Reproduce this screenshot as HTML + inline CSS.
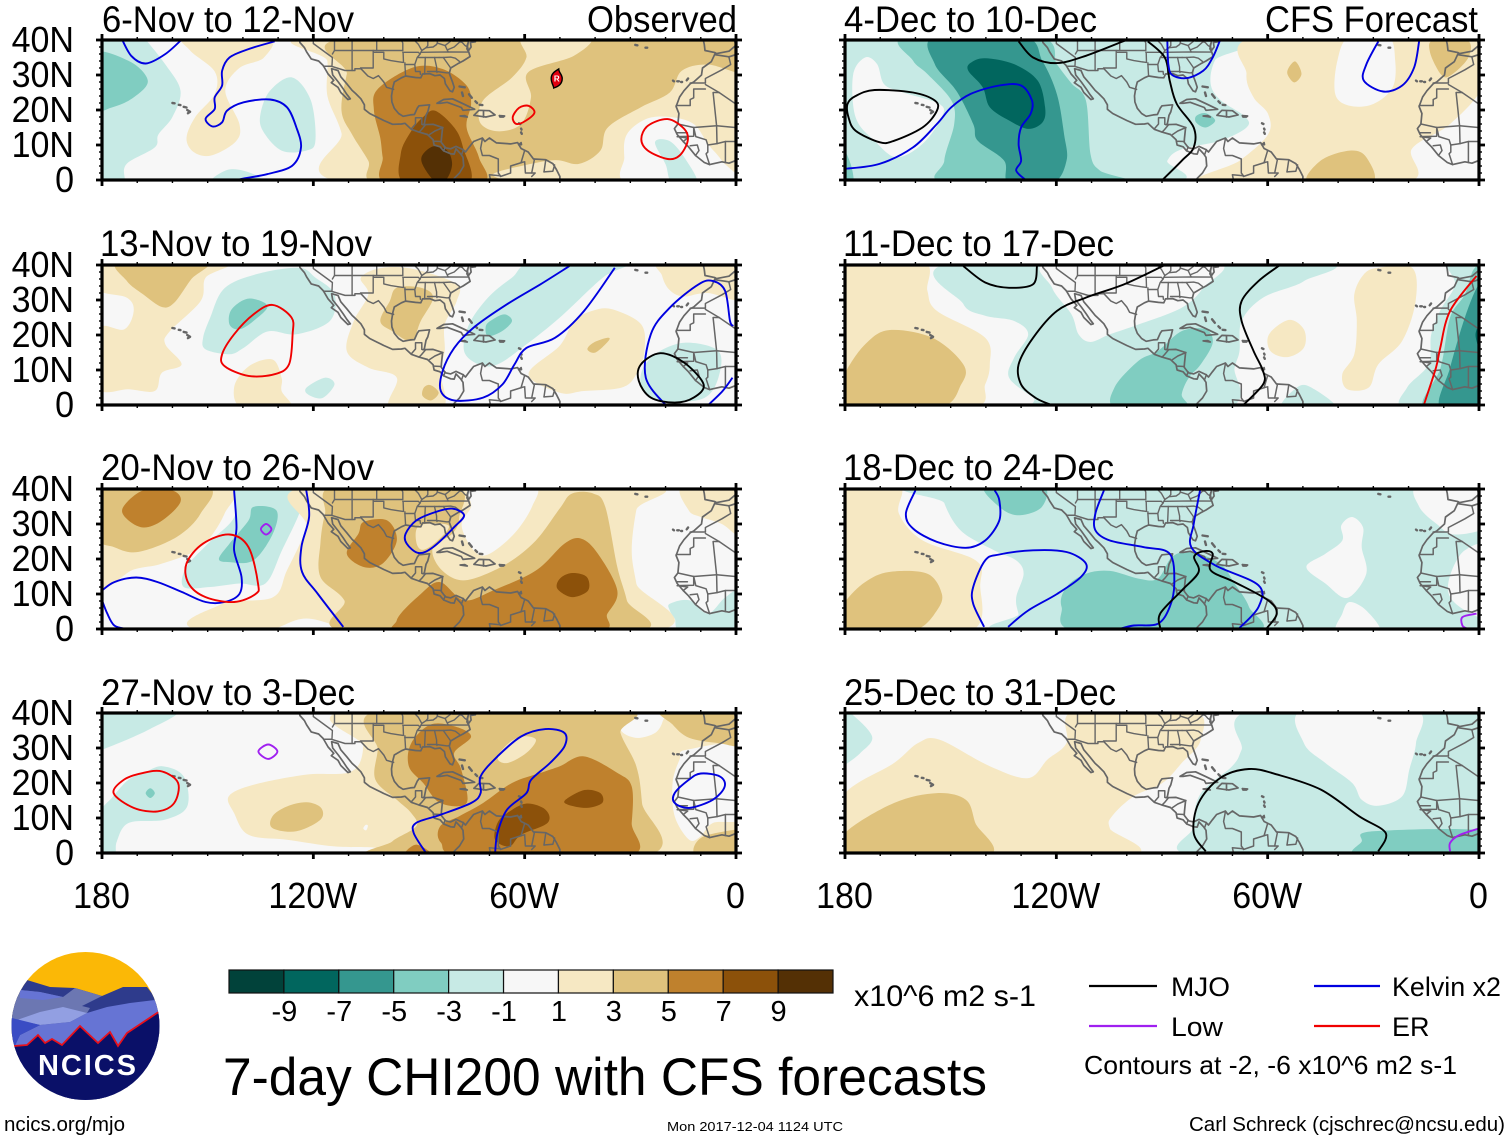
<!DOCTYPE html>
<html lang="en">
<head>
<meta charset="utf-8">
<title>7-day CHI200 with CFS forecasts</title>
<style>
html,body{margin:0;padding:0;background:#fff;}
svg{display:block;font-family:"Liberation Sans",Arial,sans-serif;}
</style>
</head>
<body>
<svg id="chart" xmlns="http://www.w3.org/2000/svg" width="1510" height="1141" viewBox="0 0 1510 1141">
<rect width="1510" height="1141" fill="#fff"/>
<g id="panels"></g>
<g id="titles" font-size="37" fill="#000">
<text x="102" y="32" textLength="252" lengthAdjust="spacingAndGlyphs">6-Nov to 12-Nov</text>
<text x="587" y="32" textLength="150" lengthAdjust="spacingAndGlyphs">Observed</text>
<text x="844" y="32" textLength="253" lengthAdjust="spacingAndGlyphs">4-Dec to 10-Dec</text>
<text x="1265" y="32" textLength="213" lengthAdjust="spacingAndGlyphs">CFS Forecast</text>
<text x="100" y="256" textLength="272" lengthAdjust="spacingAndGlyphs">13-Nov to 19-Nov</text>
<text x="843" y="256" textLength="271" lengthAdjust="spacingAndGlyphs">11-Dec to 17-Dec</text>
<text x="101" y="480" textLength="273" lengthAdjust="spacingAndGlyphs">20-Nov to 26-Nov</text>
<text x="843" y="480" textLength="271" lengthAdjust="spacingAndGlyphs">18-Dec to 24-Dec</text>
<text x="101" y="705" textLength="254" lengthAdjust="spacingAndGlyphs">27-Nov to 3-Dec</text>
<text x="844" y="705" textLength="272" lengthAdjust="spacingAndGlyphs">25-Dec to 31-Dec</text>
</g>
<g id="colorbar"></g>
<text x="854" y="1006" font-size="30" textLength="182" lengthAdjust="spacingAndGlyphs">x10^6 m2 s-1</text>
<text x="223" y="1095" font-size="53" textLength="764" lengthAdjust="spacingAndGlyphs">7-day CHI200 with CFS forecasts</text>
<g id="legend" font-size="27">
<line x1="1089" x2="1157" y1="986" y2="986" stroke="#000" stroke-width="2.2"/>
<text x="1171" y="996" textLength="59" lengthAdjust="spacingAndGlyphs">MJO</text>
<line x1="1314" x2="1380" y1="986" y2="986" stroke="#0000e0" stroke-width="2.2"/>
<text x="1392" y="996" textLength="109" lengthAdjust="spacingAndGlyphs">Kelvin x2</text>
<line x1="1089" x2="1157" y1="1026" y2="1026" stroke="#a020f0" stroke-width="2.2"/>
<text x="1171" y="1036" textLength="52" lengthAdjust="spacingAndGlyphs">Low</text>
<line x1="1314" x2="1380" y1="1026" y2="1026" stroke="#f00000" stroke-width="2.2"/>
<text x="1392" y="1036">ER</text>
<text x="1084" y="1074" font-size="26" textLength="373" lengthAdjust="spacingAndGlyphs">Contours at -2, -6 x10^6 m2 s-1</text>
</g>
<g>
<clipPath id="logoClip"><circle cx="85.5" cy="1026" r="74"/></clipPath>
<g clip-path="url(#logoClip)">
<rect x="10" y="950" width="152" height="152" fill="#fbb806"/>
<path d="M5 1000 L20 990 L27 980 L50 987 L75 988 L102 996 L123 987 L147 987 L165 1010 L165 1100 L5 1100Z" fill="#2e3b8c"/>
<path d="M20 990 L40 992 L63 997 L75 988 L102 996 L82 1006 L90 1008 L87 1013 L17 1020 L5 1020 L5 1002Z" fill="#6c77b2"/>
<path d="M20 990 L40 992 L63 997 L43 1000 L20 998Z" fill="#6674d4"/>
<path d="M87 1013 L107 1007 L130 1003 L155 1000 L165 1010 L165 1100 L5 1100 L15 1045 L20 1035 L40 1025 L70 1022Z" fill="#6674d4"/>
<path d="M17 1020 L40 1012 L63 1007 L87 1013 L70 1022 L40 1025Z" fill="#929fe2"/>
<path d="M5 1017 L12 1018 L40 1025 L20 1035 L15 1046 L5 1046Z" fill="#3a4cc4"/>
<path d="M14 1046 L27 1045 L38 1035 L45 1043 L52 1039 L62 1045 L80 1026 L98 1043 L110 1032 L118 1046 L127 1033 L157 1013 L165 1008 L165 1102 L5 1102 L5 1046Z" fill="#0a1068" stroke="#e8101c" stroke-width="1.8"/>
</g>
<text x="38" y="1075" font-size="29" font-weight="bold" fill="#fff" textLength="98" lengthAdjust="spacing">NCICS</text>
</g>
<text x="4" y="1131" font-size="20" textLength="121" lengthAdjust="spacingAndGlyphs">ncics.org/mjo</text>
<text x="667" y="1131" font-size="13" textLength="176" lengthAdjust="spacingAndGlyphs">Mon 2017-12-04 1124 UTC</text>
<text x="1189" y="1131" font-size="20" textLength="316" lengthAdjust="spacingAndGlyphs">Carl Schreck (cjschrec@ncsu.edu)</text>
</svg>
<script>
// ---- axis values ----
const latTicks = [40,30,20,10,0];
const latTickLabels = ['40N','30N','20N','10N','0'];
const lonMajor = [-180,-120,-60,0];
const lonTickLabels = ['180','120W','60W','0'];
const colorLevels = [-11,-9,-7,-5,-3,-1,1,3,5,7,9,11];
const colorbarLabels = [-9,-7,-5,-3,-1,1,3,5,7,9];

// ---- filled CHI200 anomaly contours: [level, flat lon/lat list] ----
const fillP1 = [
[-2,[-168.3,41,-162,33,-157.7,25.5,-160,18,-164,13,-165,9.3,-173,4.6,-173.5,0,-173,-3,-185,-3,-185,43,-170,43]],
[-4,[-183,36,-172.4,34,-167,28.4,-171,23.6,-177,20.8,-183,20.6]],
[2,[-156,41,-133,41,-134,35,-141,32,-145,25.5,-141,16,-142,11,-149,7,-154,8,-156,12,-153.5,18,-148,24.6,-148,31,-155,37]],
[-2,[-126,29.3,-120.7,22.7,-119.4,11.2,-122,8.4,-129,8.4,-134.3,14,-135,18.9,-132.3,25.5]],
[-2,[-149,-1,-144,3,-137,1.7,-135,-1]],
[2,[-118,41,3,41,3,-1,-109.5,-1,-112,13.4,-116,24,-116,34]],
[0,[-30.3,-1,-31.7,6.5,-31,13,-25.6,17.4,-18.8,18,-12,16,-8,10.3,-4,5.5,-0.7,-1]],
[-2,[-23,10.8,-19,11.2,-14.7,6.5,-11,-1,-18,-1,-20,4.5]],
[4,[-107.8,41,-110.5,30.3,-112,19.8,-109,13,-104.4,5.5,-101.7,-1,-67.7,-1,-69,1.7,-61,4,-51.4,5.7,-44.6,4.6,-38.5,8.4,-36.4,15,-27,20.8,-18.8,25,-15.4,31.2,-8,33,3,30.8,3,41]],
[2,[-60.2,41,-59.5,35,-63.6,29.3,-71.8,22.7,-72.7,16.5,-67.7,13.9,-61,16,-58.2,23.6,-59,30.8,-46,35.5,-41.6,41]],
[6,[-91.5,32.2,-83.3,31.7,-76.5,27,-75.2,21.7,-76.5,15,-73,6.5,-72.5,-1,-99,-1,-100.3,6.5,-101,12,-102.8,20,-101.7,26]],
[8,[-85.4,19.8,-80,15,-77.5,9.3,-76,-1,-93.8,-1,-95.2,7.4,-92.2,14,-88.8,18]],
[10,[-86,9.6,-82,8.4,-80.6,4.6,-82,0.5,-84.7,-1,-88,2.7,-89.3,6.5]]
];
const fillP2 = [
[2,[-181.2,41,-144.5,41,-150.6,36.4,-152,29.7,-160.8,21,-162,17.3,-157.4,11.6,-163,9.2,-165,4,-172.4,4.5,-181.2,5,-181.2,21.6,-173.7,21.6,-171,26.9,-173,30.7,-181.2,33]],
[4,[-175,41,-150.6,41,-154.7,35.9,-159.5,29.2,-163,28,-168.3,31.6,-173,35.5]],
[2,[-138.4,11,-131.6,13,-129,7.8,-129,4,-126.5,-1,-140,-1,-142.5,5]],
[-2,[-135.7,37.5,-124.1,39.2,-119.4,36.4,-114,31.6,-115.3,24,-124.8,20.2,-133,21,-139.8,16.3,-143.8,14.5,-150.6,15.9,-151.3,19.2,-149.3,24.9,-145.2,33.4]],
[-4,[-138.4,30.4,-133,28.3,-137,24,-141,21.6,-143.8,23,-143.2,27.3]],
[-2,[-116.7,7.8,-114,5.9,-117.4,2,-121.5,3,-121.9,5]],
[2,[-106.5,36.4,-100.3,39.2,-90.8,38.7,-79.3,34.5,-79.3,29.7,-82.7,23,-82.7,15.4,-84,9.7,-83.3,-1,-98.3,-1,-96.3,7.8,-104.4,10.7,-110.5,15.4,-108.5,24,-104.4,31.6]],
[4,[-96.3,33.5,-89.5,33.5,-86,30.7,-89.5,24,-92.2,18.3,-97.6,21.1,-101,24,-98.3,29.7]],
[4,[-86.7,5.7,-84.4,3.5,-86.5,1.3,-89,2.6,-88.6,5]],
[-2,[-56.8,41,-30.3,41,-37.8,36.4,-50,25,-59.5,17.3,-67.7,11.6,-73,11.6,-77.2,15.4,-75.8,23,-70.4,30.7,-63.6,36.4]],
[-4,[-65.7,25.9,-63.6,24,-66.4,21.1,-70.4,19.7,-71,22.6,-69,24.5]],
[2,[-35,27.3,-26.9,23,-26,15.4,-28.3,8.8,-32.4,5,-43.2,4,-50,3.5,-58.9,8.8,-50,17,-46,24,-40.5,27]],
[4,[-36.5,19.2,-36.2,18.3,-39.9,15,-42.2,15.9,-40.5,17.8]],
[2,[-21,41,3,41,3,30,-8,32,-15,31,-19,33,-21,37]],
[-2,[-14.6,17.8,-5,15.4,-5,7.8,-9,2,-18.7,1,-25.6,3,-27,8.8,-23,14.5]]
];
const fillP3 = [
[2,[-181.2,41,-144.5,41,-145.2,33,-152,23.4,-162.9,18.7,-171,17,-181.2,13]],
[4,[-181,41,-150.6,41,-152,33,-158.8,26.3,-169.8,22,-176.6,23.4,-181,26.3]],
[6,[-168.3,39.6,-160.1,39.6,-157.7,36.3,-162.9,31,-168.3,29,-173,31.5,-174,34.8]],
[-2,[-141,41,-124,41,-123.4,34.8,-128.9,22.5,-133.6,13,-141,13,-149.3,12,-156.8,12,-156,17.7,-149.3,25,-142.5,31.9]],
[-4,[-137,34.9,-130.5,33.9,-131.5,27.2,-137,19.6,-143.8,19.1,-146.8,20,-143.8,24.4,-138.4,31]],
[2,[-120,41,-26.2,41,-28.3,34,-29.6,22.5,-28.3,13,-25.6,-1,-146.6,-1,-145.9,7.2,-131.6,9,-127.5,16.7,-122,29]],
[0,[-75.2,41,-57.5,41,-57.9,35,-63,27.2,-70.4,21.3,-74.5,22.5,-77.9,29.6,-75.2,35]],
[0,[-130,-1,-127.5,1.5,-122,3,-115.3,1.5,-110.5,-1]],
[4,[-113.9,41,-116.7,32.9,-118,24.4,-118,14.9,-111.2,8.2,-109.2,-1,-29.7,-1,-31,8.2,-33.7,17.7,-37.1,34.9,-40.5,38.7,-46.6,38.7,-50,34.5,-56.8,25.3,-65,18.7,-74.5,14.4,-80,14.4,-84.7,18.2,-86,23.4,-80.6,27.2,-78.6,31.9,-80,41]],
[2,[-89.8,29.6,-81.6,29.6,-85,25,-89,22.6,-90.8,25]],
[6,[-96.3,2.5,-89.5,10,-84,13.4,-77.2,8.2,-69,11,-56.8,16.7,-48.7,24.4,-43.9,25.8,-39.2,21.5,-33.7,11,-36.5,4.4,-41.2,-1,-92.2,-1]],
[8,[-46.6,16,-42.4,14.9,-42,11,-46.6,9.1,-50.7,11.5,-50,14.4]],
[6,[-105.7,30.6,-99,31,-96.3,25.3,-100.3,18.7,-105.7,17.7,-110.5,21.5,-107.2,27.2]],
[-2,[-18.8,7.2,-13.3,8.2,-8,4.4,-3.1,9,1,10.6,1,-1,-15,-1,-17.4,3,-18.8,5.3]],
[2,[-15,41,3,41,3,26,-4,30,-10,32,-13.5,34]]
];
const fillP4 = [
[-2,[-181,41,-158.7,41,-166.8,35.2,-180,29.5,-181.5,29.5]],
[-2,[-162.9,24.8,-156.8,21.9,-155.8,13.3,-162.2,9.5,-172.4,8.6,-175.8,3.3,-176.5,-1,-181,-1,-181,10.5,-177,16,-172.4,21,-168,22.9]],
[-4,[-166.3,18.5,-165,17.1,-166.3,15.7,-167.6,17.1]],
[2,[-107.8,41,3,41,3,-1,-100.3,-1,-101.7,1.4,-114,1.9,-127.5,3.8,-138.4,5.2,-142.5,11.4,-144,16.2,-137,19.5,-122,22.4,-109.2,23.3,-105.8,30.5]],
[0,[-32.4,41,-20.8,41,-20.8,37.6,-23,34.3,-28.3,32.9,-32.8,35.2]],
[0,[-14,29.5,3,30,3,11,-6.5,8.6,-10,4.8,-13.3,3.8,-17.4,10.5,-18,20,-16,26.7]],
[4,[-10,4.3,0,6.7,3,6.7,3,-1,-11,-1]],
[4,[-20.8,41,3,41,3,31,-5,31.4,-13.3,32.9,-18,36.7]],
[4,[-100.3,41,-32.8,41,-32.8,34.3,-28.3,24.8,-26.7,14.3,-26.2,-1,-100.3,-1,-97.6,3.3,-90.8,7.6,-92.2,11.4,-96.3,15.2,-102.4,21,-101.7,29.5]],
[2,[-60.9,33.3,-56.8,32.4,-59.5,28.6,-64.9,25.7,-67.7,27.1,-65,31]],
[4,[-121.9,14.5,-117.8,12.9,-118,9.5,-124.8,6.2,-131.6,7.1,-131.6,10.5,-127.5,13.3]],
[6,[-43.2,27.6,-33.7,22.9,-29.6,19,-29.6,8.6,-31,-1,-76.5,-1,-83.8,3,-84,7.6,-78.6,10.5,-71.8,14.3,-63.6,20,-55.5,22.9,-50,24.8]],
[6,[-86.7,36.7,-80,36.2,-75.2,33.3,-80,28.6,-78,23.8,-76.5,14.3,-84,14.3,-88.8,20,-92.9,24.8,-92.2,31.4]],
[6,[-94.2,-1,-90.8,2.4,-86,-1]],
[8,[-43,18,-38.5,17.1,-38,14.3,-42.4,12.9,-47.7,13.8,-48.4,15.2]],
[8,[-59.6,14.1,-54.1,12.4,-53.5,8.6,-61,5.2,-64.3,1.9,-68.4,3.8,-67.7,8.6,-65,11.4]],
[0,[-105.2,8,-104.5,7.8,-105,6.5,-105.8,7]]
];
const fillP5 = [
[-2,[-181,41,-69.4,41,-74.9,34.3,-76.2,27.6,-73.5,22.9,-66.4,18.1,-66,15,-73.5,11.2,-84.4,8.8,-88.5,5.5,-90,-1,-181,-1]],
[0,[-174.3,35,-170.9,33.1,-168.8,27.3,-163.4,25,-153.2,21.7,-152.5,18,-158,10.3,-165.4,6.5,-171.6,11.2,-177,17.9,-177.7,30]],
[-4,[-162.7,41,-160.7,34.1,-156.6,30.3,-149.8,22.7,-149,16,-151.8,5.5,-150.4,-1,-100.7,-1,-107.6,2.7,-110.3,7.4,-111.6,22.7,-115.7,27.6,-119.8,33,-125.3,41]],
[-4,[-181,9.3,-178.4,4.6,-177.7,-1,-181,-1]],
[-6,[-154.5,41,-154.5,33.1,-148.4,25.5,-143.6,16,-142.3,11.2,-134.8,5.5,-133.4,-1,-121.2,-1,-117.1,5.5,-117.8,13,-119.8,24.4,-123.9,33.9,-129.3,41]],
[-8,[-140.2,34.8,-132,33.1,-125.3,28.4,-123.2,20.8,-123.9,16.5,-128,14.6,-133.4,17,-138.9,20.8,-140.9,26.5,-145,31.2,-144.3,33.5]],
[-4,[-77.6,19.1,-74.9,17,-77.6,15,-80.3,16.4,-80.3,18.3]],
[2,[-62.6,41,1.4,41,1.4,27.4,-8.2,16,-19,9,-21.8,-1,-78.3,-1,-68,5.5,-59.9,13,-59.9,18.9,-64,23.6,-66,30.3]],
[0,[-36.7,41,-25.9,41,-23.8,34.1,-24.5,26.5,-30,21.7,-36.7,21.2,-40.8,24.5,-40.2,34.1]],
[4,[-52,33.8,-50.4,30.3,-52.4,27.9,-54.4,30.3,-53.7,32.6]],
[4,[-12.9,40,-3.4,40,-3,35,-8.2,29.8,-10.9,30.3,-13.9,36.5]],
[4,[-36.7,8.4,-32,6.5,-30.6,-1,-48.3,-1,-45,5.5]]
];
const fillP6 = [
[2,[-181,41,-157.9,41,-156.6,32.6,-153.9,26.9,-140.2,19.2,-138.9,11.6,-140.2,5.9,-144.3,-1,-181,-1]],
[4,[-167.5,21.4,-155.2,19.2,-146.4,11.6,-147,5.9,-153.9,-1,-181,-1,-181,5,-179.7,9.7,-174.3,17.3]],
[-2,[-147.7,41,-47.6,41,-49.7,35.4,-61.3,30.7,-67.4,24,-68,15.4,-69.4,10.7,-72.2,-1,-121.9,-1,-126.6,2.1,-133.4,7.8,-132,13.5,-128,20.2,-132,24,-140.2,25.5,-146.4,28.9]],
[-2,[-51.7,5,-47.6,5,-40.8,-1,-55.8,-1]],
[0,[-121.2,41,-75,41,-78.3,33.5,-84.4,27.8,-96.7,23,-104.8,20.2,-110.3,18,-113.7,20.2,-115.7,25.9,-121.2,33.5]],
[-4,[-102.8,-1,-103.5,5,-96.7,12.6,-91.2,15.4,-84.4,21.1,-77.6,21.6,-75.6,17.8,-79,11.6,-82.4,7.8,-84.4,3,-83.7,-1]],
[2,[-54,24.3,-49.7,21.6,-49.7,16.4,-54.4,13.7,-59.2,15.4,-59.6,20.2]],
[2,[-28.6,39.2,-19,39.2,-18,29.7,-21.8,18.3,-28.6,11.6,-31.3,5,-37.4,4.5,-38.8,8.8,-35.4,14.5,-34.7,24,-35.4,31.6,-32.7,37.3]],
[-2,[-9,41,3,41,3,-1,-21,-1,-20.4,5,-14.3,11.6,-13.6,20,-11,27,-6.8,34.5]],
[-4,[-1.3,39,3,39,3,-1,-15.6,-1,-10.9,10.7,-8.2,25,-4,31.6]],
[-6,[0,34.5,3,34.5,3,-1,-10.9,-1,-8.2,10.7,-4,25]],
[-8,[0.5,23,-1,20,0.5,15.4,2,18]]
];
const fillP7 = [
[2,[-181,41,-164.7,41,-164.7,33,-157.9,25.3,-142.9,19.6,-141.6,13,-145,-1,-181,-1]],
[4,[-167.5,16.3,-156.6,15.8,-152.5,10,-153.9,5.3,-159.3,0,-170,-1,-181,-1,-181,5,-179.7,8.2,-174.3,13.4]],
[-2,[-151.8,41,-151.8,36,-147,28,-137.5,22.4,-131.4,19.6,-129.3,15.8,-131.4,9,-130.7,4.3,-128.7,-1,3,-1,3,41]],
[0,[-36,32,-32.9,29,-33.3,23.4,-32,15.8,-37.4,8.9,-43.6,13,-49,17.7,-43.6,21.5,-38.8,25.3,-39.1,29.6]],
[0,[-36.8,7.7,-32,5.3,-28.3,-1,-40.2,-1,-38.8,4.4]],
[0,[-17,41,3,41,3,30,-6.8,27,-12,30,-17,35]],
[0,[-8.2,15.3,-4,22.5,3,23,3,4.4,-2.2,4.4,-8.2,9.1]],
[-4,[-140.2,41,-124,41,-124.1,34.9,-130.7,32.5,-136.2,34.9]],
[-4,[-104.8,16.6,-96.7,14.4,-91.2,14.4,-87.1,20.6,-81.7,22,-73.5,18.7,-69.4,13,-65.3,6.3,-64.6,-1,-113,-1,-118.5,6.3,-117.1,12,-111.6,15.8]]
];
const fillP8 = [
[-2,[-181,41,-178.4,40,-172.3,33.3,-175.6,28.6,-180,25.2,-181,25]],
[2,[-181,15.7,-166.1,25.7,-159.3,31.4,-153.2,32.4,-138.9,24.8,-128,21.4,-122.5,26.7,-117.1,31.4,-114.4,41,-81.7,41,-79,32.4,-84.4,25.7,-89.9,20,-98,16.2,-104.2,10.5,-104.8,7,-100.7,-1,-181,-1]],
[4,[-153.9,17.1,-145.7,15.2,-143,8.6,-140,-1,-181,-1,-180,5.7,-166.1,14.3]],
[-2,[-63.3,41,3,41,3,-1,-79,-1,-81,7.6,-79,17,-70.1,24.8,-67.4,29.5]],
[0,[-49.7,41,-18.4,41,-17.9,31.4,-19.8,23.8,-21.8,16.2,-28.6,13.5,-33.3,15.2,-36,20,-43.6,25.7,-49.7,31.4]],
[-4,[-30,6.2,3,6.2,3,-1,-33.3,-1,-33.3,3.3]]
];

// ---- contour lines: [kind, closed, flat lon/lat list] ----
const lineP1 = [
['kelvin',0,[-174.7,41,-171.7,35.5,-167.6,33.3,-162,36,-157,40.5]],
['kelvin',0,[-131,39.6,-138.4,37.4,-143.8,35,-145.9,31.2,-145.9,27,-148,23.6,-148,20.3,-150.6,17.5,-148.6,15.3,-145.9,16.5,-144.5,19.8,-139.8,22.2,-132.3,23,-127.5,20.8,-124.8,15,-123.5,9.3,-126,4.1,-133,1.7,-140.4,0.3,-142.5,-0.5]],
['er',1,[-58.9,21.2,-57.2,19.3,-59.6,17,-62.3,16,-63.4,17.9,-61.6,20.6]],
['er',1,[-19.4,17.4,-14.7,14.6,-13.7,11.2,-16,7,-19.4,6,-25,8.4,-26.9,11.7,-25,15.5]]
];
const lineP2 = [
['er',1,[-131.6,28.6,-126.2,25,-125.9,20.2,-126.9,11.6,-131,8.8,-138.4,8.3,-145.2,11.1,-145.9,14.5,-142.5,20.2,-137,25.9]],
['kelvin',0,[-47.3,39.7,-55.5,34.5,-65,28.8,-74.5,22.1,-80,16.3,-83.3,9.7,-83.8,4,-80,1.3,-71.8,2.1,-66.3,5.9,-62.9,11.6,-59.5,16.3,-51.4,19.2,-43.2,26.8,-34.4,39.2]],
['kelvin',0,[-19,-1,-25.6,7.8,-24.2,20.2,-18.8,27.8,-10.6,34.5,-6.5,35.4,-3.1,32.6,-1.7,24,-0.8,22.6]],
['kelvin',0,[-7.9,0,-3.8,4,-1,7.8]],
['mjo',1,[-21.5,14.8,-14.7,12.1,-9.2,5.9,-12,2.1,-17.4,0.7,-24.2,2.1,-27.6,6.9,-27,11.6]]
];
const lineP3 = [
['kelvin',0,[-142.5,39.6,-141.8,29.1,-142.5,22.5,-140.4,14.9,-141,10,-145.2,7.7,-150.6,7.7,-157.4,10.6,-164.2,13.4,-170.3,14.7,-176.5,13.4,-180,11]],
['kelvin',0,[-180,8.2,-178.5,4.4,-176.5,1,-173,0]],
['kelvin',0,[-122,39.6,-121.2,32,-123.4,23.4,-123.2,16.3,-118.7,10,-111.5,0.6]],
['kelvin',1,[-80.6,34.4,-77.2,32.5,-80,29.1,-86,23.4,-90.1,21.7,-93.5,24.4,-93.8,27.2,-90.8,31,-85.4,33.4]],
['er',1,[-143.8,27,-138.4,23.4,-135.7,13,-136.4,10,-142.5,7.7,-150.6,9.1,-155.4,13,-156,18.7,-151.3,24.4]],
['low',1,[-133.4,30,-131.9,28.5,-133.4,27,-134.9,28.5]]
];
const lineP4 = [
['er',1,[-162.9,23.3,-158.4,20,-159.5,14.3,-164.2,11.9,-171,12.9,-176.7,17.1,-173.7,21,-168.3,22.9]],
['low',1,[-132.8,31,-130.2,29,-132.8,26.9,-135.6,29]],
['kelvin',0,[-88,0,-91.5,5.7,-90.8,8.6,-84,10.9,-75.2,14.3,-72.5,17.1,-72.5,21.9,-67.7,27.6,-61,33.3,-54.1,35.4,-48.7,34.3,-48.7,30.5,-52.8,25.7,-58.2,20.9,-59.5,17.1,-65,12.4,-67.7,5.7,-68.4,0]],
['kelvin',1,[-10,22.7,-4.6,21.9,-3.2,19,-6.6,15.2,-13.3,12.9,-17.4,14.3,-17.4,17.1,-13.3,21]]
];
const lineP5 = [
['mjo',0,[-130.7,39.6,-126.6,35,-119.8,33.4,-111.6,35.5,-100.1,40]],
['mjo',1,[-171.6,25.7,-160.7,25,-154.5,22.7,-153.9,19.8,-158,15,-166.1,11.2,-170.2,10.8,-177,14.1,-179,17.9,-179.3,21.7,-177,24]],
['mjo',0,[-94,39.6,-89.2,35,-87.8,28.4,-85.8,21.7,-81,15,-81,9.3,-84.4,5.5,-89.9,0]],
['kelvin',0,[-180,3.2,-170.2,4.6,-160.7,9.3,-153.9,16,-149.8,20.8,-144.3,24.6,-136.2,27,-130,27,-126.9,22.7,-127.3,18.9,-130,15,-130.7,10.3,-130,5.5,-131.4,2.7,-128.7,0]],
['kelvin',0,[-88.5,40,-88.2,33.1,-87.1,30,-83,29.1,-78.3,31.2,-75.6,35,-73.5,40]],
['kelvin',0,[-28.6,39.6,-32,33,-32.7,28.4,-27.2,25.3,-21.8,27,-18.4,32.2,-17,39.6]]
];
const lineP6 = [
['mjo',0,[-146.4,39.7,-140.2,35,-133.4,33.5,-126.6,34.5,-125.5,39.7]],
['mjo',0,[-89.2,40,-100.7,34.5,-111.6,30.7,-119.8,26.9,-126.6,19.2,-130.7,11.6,-130,5.9,-126,2.1,-121.9,0.2]],
['mjo',0,[-56.5,40,-62.6,35.4,-67.4,29.7,-67.4,24,-64,15.4,-61.3,9.7,-61.3,5.9,-66.7,0.2]],
['er',0,[-0.7,36.9,-8.2,26.9,-11,16.4,-12.2,10.7,-15.6,0.2]]
];
const lineP7 = [
['kelvin',0,[-160,39.6,-162.7,33,-160.7,28.7,-153.9,24.9,-145.7,23.2,-140.2,25.3,-136.2,31,-136.2,36.8,-137.5,39.6]],
['kelvin',0,[-140.5,0.6,-143.6,7.2,-143.6,12,-140.2,19.6,-136.2,21.3,-126.6,22.5,-117.1,22,-111.6,18.7,-113,14.9,-119.8,10,-128,5.3,-133.7,0.6]],
['kelvin',0,[-106.5,39.6,-108.9,33,-108.9,28.2,-104.8,25.3,-95.3,23.4,-87.8,21.5,-86.5,13,-87.8,6.3,-91.2,1.5,-98,1,-102.1,0]],
['kelvin',0,[-79.2,39.6,-81,30,-81.7,23.4,-74.9,18.2,-62.6,12.5,-62.6,6.3,-68,0.3]],
['mjo',0,[-90.5,0.3,-90.5,4.4,-84.4,11,-79.6,16.3,-80.9,20.6,-78.3,22.2,-75.6,21.5,-76.2,16.8,-69.4,13.4,-59.9,8.2,-57.4,4.4,-60.2,0.3]],
['low',0,[-0.7,4.4,-4.7,3.4,-4.7,1,-3.4,0.1]]
];
const lineP8 = [
['mjo',0,[-77.6,0.5,-81,5.7,-79.6,14.3,-73.5,21.4,-65.3,24,-57.2,22.4,-44.9,18.1,-34,10.5,-26.5,5.7,-28.6,0.5]],
['low',0,[2,7.6,-5.4,5.2,-8.2,2.9,-8.2,0.5]]
];
const hurricaneLon = -50.9;
const hurricaneLat = 29;

// ---- geography, lon/lat ----
const coastlines = [
[-124,40.4,-123.8,39.3,-122.5,37.8,-121.9,36.6,-120.6,34.6,-118.5,34,-117.2,32.7,-115.8,30.3,-114.2,28.5,-114.9,27.8,-113,26.5,-112.2,25,-110.2,23,-109.5,23.2,-110.5,24.5,-111.5,26,-112.9,28,-114.5,30,-114.8,31.8,-113,31.3,-112.2,29.5,-110.5,27.5,-109,25.6,-108,24.7,-106.5,23.2,-105.5,21.5,-105.5,20.2,-104,19,-102,18,-100,17,-97.5,15.9,-95,16,-94,16.2,-92.2,14.5,-90,13.7,-87.6,13,-86,11.5,-85.7,10,-84,9.5,-83,8.3,-81,7.5,-80,7.4,-79.5,8.9,-78.2,7.5,-77.5,6.5,-77.3,4,-78.5,2,-80,0.5,-80.5,-1],
[-74,40.7,-74,39.5,-75.4,39.3,-75.2,38,-76,36.9,-76.3,38.5,-76,39.4,-76.4,37.5,-75.9,36.6,-75.5,35.3,-77.5,34,-79,33.2,-81,32,-81.4,30.5,-80.5,28,-80,26.5,-80.5,25.2,-81.2,25.5,-82.5,27.5,-82.8,29,-84,30,-85.5,29.8,-87,30.4,-89,30.3,-89.5,29.2,-91,29.3,-93.8,29.7,-95,29.2,-97,28,-97.4,26.5,-97.8,24,-97.7,22.3,-97,20.5,-95.8,19,-94.5,18.2,-92.5,18.6,-91.3,18.7,-90.5,20.5,-90,21.2,-87,21.5,-87.5,19.5,-88,18.5,-88.5,16,-88.9,15.8,-86,15.9,-83.3,15,-83.6,12,-83.7,10.8,-82.5,9.2,-81,8.9,-79.5,9.6,-77.5,8.7,-76.8,8,-75.7,9.5,-74.5,11,-72,12,-71.3,11,-70,12,-68,10.6,-64,10.3,-62,10.7,-61,9,-59,8,-57.5,6,-54,5.8,-52,4.7,-51,3,-50,1,-50,-1],
[-74,40.5,-72,41,-73.8,40.7,-73.2,41],
[-84.9,21.9,-83,23,-80.5,23.2,-77.5,21.8,-74.2,20.2,-77.5,19.9,-78,20.7,-82,22.2,-84,21.9,-84.9,21.9],
[-74.4,18.5,-73,19.9,-70,19.8,-68.4,18.6,-71,18,-72.5,18.2,-74.4,18.5],
[-71.7,19.7,-71.7,18],
[-78.3,18.3,-76.3,18,-77,18.4,-78.3,18.3],
[-67.2,18.4,-65.7,18.3,-66,18,-67,18,-67.2,18.4],
[-61,10.7,-60.9,10.1,-61.7,10.1,-61,10.7],
[-6,36,-7,33.8,-9.5,32,-9.8,30,-12,28,-13,27.5,-14.8,25.5,-16,23.7,-17,21,-16.2,19,-16.5,16,-17.5,14.7,-16.7,13,-15,11,-13.5,9.5,-11.5,7,-9,5,-7.5,4.4,-4,5.2,-2,4.8,1,6,3,6.3],
[-6,35.8,-2,35.2,3,36.8],
[-9.4,40.5,-9,38.7,-8.8,37,-6,36.4,-5.5,36.1,-2,36.8,0,38.5,-0.3,39.5,0.5,40.5]
];
const islandDots = [
[-160,22,-159.4,21.9],[-158.2,21.5,-157.7,21.4],[-156.8,20.9,-156,20.7],[-155.8,20,-155,19.5,-155.6,19.1],
[-78.5,26.7,-77,26.5],[-77.8,25,-77.5,24],[-75.8,24.5,-75,23.5],[-74,22.5,-73.5,22],[-72.8,21.5,-72,21.4],
[-61.6,16.2,-61.2,16],[-61,14.7,-60.9,14.4],[-61,13.6,-60.8,13.2],
[-28.6,38.6,-28,38.5],[-25.7,37.8,-25.2,37.8],
[-17.9,28.4,-17.6,28.2],[-16.7,28.2,-16.2,28.2],[-15.6,28,-15.3,28],[-14,28.5,-13.6,29]
];
const stateLines = [
[-120,41,-120,39,-114.6,35,-114.7,32.7],[-114,41,-114,37,-114.6,36],[-109,41,-109,31.3],[-114,37,-94.6,37],
[-103,37,-103,32,-106.6,32],[-103,36.5,-100,36.5,-100,34.6,-98,34.1,-96,33.8,-94.5,33.6],[-102,41,-102,37],
[-94.5,36.5,-94.4,33.6],[-94,33.5,-94,33,-91.2,33],[-94,33,-93.8,29.7],[-91.2,33,-91,31,-89.7,31,-89.6,30.2],
[-94.6,37,-94.6,39.1,-95,40],[-94.6,36.5,-90.2,36.5,-89.7,36],[-91.4,40,-90.2,38.8,-89.2,37,-89.7,36,-90.5,35,-91.2,33],
[-89.2,37,-88,37.8,-86,38,-85,38.7,-84.8,39.1,-82.6,38.4,-80.6,40],[-87.5,40,-87.5,38.4,-88,37.8],[-84.8,40,-84.8,39.1],
[-89.5,36.5,-81.7,36.6,-75.9,36.55],[-90.2,35,-84.3,35],[-88.2,35,-88.4,30.3],[-85.6,35,-85,32.3,-85,31,-84.9,30.7],
[-87.6,31,-85,31,-82,30.6,-81.5,30.7],[-83.1,35,-81,32],[-84.3,35,-83,35,-81,35.1,-79.7,34.8,-78.5,33.9],
[-81.7,36.6,-82.6,38.4],[-81.7,37.3,-80,38,-78.4,39.5,-77.7,39.3],[-80.5,39.7,-75.8,39.7],[-77.7,39.3,-77,38.5,-76.3,38],
[-102,40,-95.3,40],[-95.3,40,-80.5,40]
];
const borderLines = [
[-117.1,32.5,-114.8,32.5,-111,31.3,-108.2,31.3,-108.2,31.8,-106.5,31.8,-104.5,29.7,-103,29,-101.5,29.8,-100,28,-99.2,26.5,-97.2,25.9],
[-92.2,14.6,-91,16,-91,17.8,-89.2,17.8,-89.2,15.9],[-88.2,15.7,-89.3,14.4,-90,13.7],[-83.2,15,-85.5,14,-87,13],
[-83.7,11,-85.7,11.1],[-82.6,9.5,-83,8.3],[-77.4,8.7,-77.9,7.2],
[-72,11.8,-72.5,9,-72,7,-70,7,-67.5,6,-67.5,2,-66.9,1.2],[-66.9,1.2,-70,1.5,-69.5,-1],[-60,8.5,-61,5,-60,5.2],
[-60.8,5,-64,4,-64,2,-66.9,1],[-60,5,-59.8,2,-57,2,-58,1],[-57.2,6,-58,2],[-54,5.8,-54.5,2.3],[-54.5,2.3,-52,2.5,-51.5,4.3],
[-2,35,-1.5,33,-4,31.5,-8.7,29,-8.7,27.7],[-13,27.7,-8.7,27.7],[-8.7,27.3,-4.8,25],[-8.7,26,-12,26,-12,23.5,-13,23,-13,21.3,-17,21.3],
[-4.8,25,-6.5,25,-5.5,15.5,-12,15,-16.5,16],[-4.8,25,1,21,3,19],[-5.5,15.5,-5.4,10.4,-8,10,-8.5,11.5,-11.4,12.4,-12,15],
[-12,15,-12,12.5,-16.7,12.4],[-16.7,13.5,-13.8,13.5],[-16.7,12.4,-13.7,12,-15,11],[-13,9.8,-11,10,-10.5,8.4,-11.5,7],
[-8,8,-8.5,7.5,-7.5,4.4],[-8,10,-8,8],[-3,11,-3,5],[-5.4,10.4,-3,11,0,11,2,12,3,12],[-5.5,15.5,-0.2,15,3,15],[0,11,1,6]
];

// ---- layout ----
const panelDefs = [
  {x:102,y:40,fill:fillP1,line:lineP1,name:'panel-nov-06',hurricane:true,yLabels:true},
  {x:102,y:265,fill:fillP2,line:lineP2,name:'panel-nov-13',yLabels:true},
  {x:102,y:489,fill:fillP3,line:lineP3,name:'panel-nov-20',yLabels:true},
  {x:102,y:713,fill:fillP4,line:lineP4,name:'panel-nov-27',yLabels:true,xLabels:true},
  {x:845,y:40,fill:fillP5,line:lineP5,name:'panel-dec-04'},
  {x:845,y:265,fill:fillP6,line:lineP6,name:'panel-dec-11'},
  {x:845,y:489,fill:fillP7,line:lineP7,name:'panel-dec-18'},
  {x:845,y:713,fill:fillP8,line:lineP8,name:'panel-dec-25',xLabels:true}
];
const PW = 634, PH = 140;
const NS = 'http://www.w3.org/2000/svg';
function xScale(p, lon){ return p.x + (lon + 180) * PW / 180; }
function yScale(p, lat){ return p.y + (40 - lat) * PH / 40; }
function levelColor(v){
  if (v <= -10) return '#01423a';
  if (v <= -8) return '#01665e';
  if (v <= -6) return '#35978f';
  if (v <= -4) return '#80cdc1';
  if (v <= -2) return '#c7eae5';
  if (v <= 0) return '#f7f7f7';
  if (v <= 2) return '#f6e8c3';
  if (v <= 4) return '#dfc27d';
  if (v <= 6) return '#bf812d';
  if (v <= 8) return '#8c510a';
  return '#543005';
}
function lineColor(kind){
  if (kind === 'mjo') return '#000';
  if (kind === 'kelvin') return '#0000e0';
  if (kind === 'er') return '#f00000';
  return '#a020f0';
}
function pixels(p, flat){
  const out = [];
  for (let i = 0; i + 1 < flat.length; i += 2) out.push([xScale(p, flat[i]), yScale(p, flat[i+1])]);
  return out;
}
function smoothPath(pts, closed){
  const n = pts.length;
  let d = 'M' + pts[0][0].toFixed(1) + ' ' + pts[0][1].toFixed(1);
  const last = closed ? n : n - 1;
  for (let i = 0; i < last; i++){
    const p0 = closed ? pts[(i-1+n)%n] : pts[Math.max(i-1,0)];
    const p1 = pts[i % n];
    const p2 = pts[(i+1)%n];
    const p3 = closed ? pts[(i+2)%n] : pts[Math.min(i+2,n-1)];
    const c1x = p1[0] + (p2[0]-p0[0])/6, c1y = p1[1] + (p2[1]-p0[1])/6;
    const c2x = p2[0] - (p3[0]-p1[0])/6, c2y = p2[1] - (p3[1]-p1[1])/6;
    d += 'C' + c1x.toFixed(1) + ' ' + c1y.toFixed(1) + ' ' + c2x.toFixed(1) + ' ' + c2y.toFixed(1) + ' ' + p2[0].toFixed(1) + ' ' + p2[1].toFixed(1);
  }
  return closed ? d + 'Z' : d;
}
function straightPath(pts){
  return pts.map((q,i)=>(i?'L':'M')+q[0].toFixed(1)+' '+q[1].toFixed(1)).join('');
}
function make(tag, attrs, parent){
  const el = document.createElementNS(NS, tag);
  for (const k in attrs) el.setAttribute(k, attrs[k]);
  parent.appendChild(el);
  return el;
}
function drawGeo(p, g, sets, width, label){
  sets.forEach(function(flat){
    const el = make('path',{d:straightPath(pixels(p,flat)),fill:'none',stroke:'#666',
      'stroke-width':width,'stroke-linejoin':'round','stroke-linecap':'round'},g);
    
    
  });
}
const root = document.getElementById('panels');
panelDefs.forEach(function(p, idx){
  const g = make('g',{},root);
  
  
  const clipId = 'clip' + idx;
  const cp = make('clipPath',{id:clipId},g);
  make('rect',{x:p.x,y:p.y,width:PW,height:PH},cp);
  const inner = make('g',{'clip-path':'url(#'+clipId+')'},g);
  const base = make('rect',{x:p.x,y:p.y,width:PW,height:PH,fill:levelColor(0)},inner);
  
  
  p.fill.forEach(function(item){
    const el = make('path',{d:smoothPath(pixels(p,item[1]),true),fill:levelColor(item[0])},inner);
    
    
  });
  drawGeo(p, inner, stateLines, 1.4, 'state-boundary');
  drawGeo(p, inner, borderLines, 1.5, 'country-boundary');
  drawGeo(p, inner, coastlines, 1.7, 'coastline');
  drawGeo(p, inner, islandDots, 2.4, 'island');
  p.line.forEach(function(item){
    const el = make('path',{d:smoothPath(pixels(p,item[2]),!!item[1]),fill:'none',stroke:lineColor(item[0]),'stroke-width':1.9,'stroke-linejoin':'round'},inner);
    
    
  });
  if (p.hurricane){
    const hx = xScale(p, hurricaneLon), hy = yScale(p, hurricaneLat);
    const hg = make('g',{transform:'translate('+hx+' '+hy+')'},inner);
    
    
    make('path',{d:'M2 -9.5C-2 -7 -5.5 -5 -5.5 0C-5.5 5 -3 7 -3 9.5C2 8 5.5 5 5.5 0C5.5 -4 2 -6 2 -9.5Z',fill:'#e00010',stroke:'#000','stroke-width':1.4},hg);
    const ht = make('text',{x:0,y:3,'font-size':8,'font-weight':'bold',fill:'#fff','text-anchor':'middle'},hg);
    ht.textContent = 'R';
  }
  // frame
  const frame = make('rect',{x:p.x,y:p.y,width:PW,height:PH,fill:'none',stroke:'#000','stroke-width':3.2},g);
  
  
  // lon ticks
  for (let lon = -180; lon <= 0; lon += 10){
    const major = lonMajor.indexOf(lon) >= 0;
    const len = major ? 6 : 3;
    const x = xScale(p, lon);
    const t1 = make('line',{x1:x,x2:x,y1:p.y+PH,y2:p.y+PH+len,stroke:'#000','stroke-width':major?2.8:1.4},g);
    
    
    const t2 = make('line',{x1:x,x2:x,y1:p.y,y2:p.y-len,stroke:'#000','stroke-width':major?2.8:1.4},g);
    
    
  }
  // lat ticks
  for (let lat = 0; lat <= 40; lat += 2){
    const major = lat % 10 === 0;
    const len = major ? 6 : 3;
    const y = yScale(p, lat);
    const t1 = make('line',{x1:p.x,x2:p.x-len,y1:y,y2:y,stroke:'#000','stroke-width':major?2.8:1.4},g);
    
    
    const t2 = make('line',{x1:p.x+PW,x2:p.x+PW+len,y1:y,y2:y,stroke:'#000','stroke-width':major?2.8:1.4},g);
    
    
  }
  if (p.yLabels){
    latTicks.forEach(function(lat,i){
      const t = make('text',{'font-size':34,'text-anchor':'end',transform:'translate('+(p.x-28)+' '+(yScale(p,lat)+12)+') scale(1 1.07)'},g);
      
      
      t.textContent = latTickLabels[i];
    });
  }
  if (p.xLabels){
    lonMajor.forEach(function(lon,i){
      const t = make('text',{'font-size':34,'text-anchor':'middle',transform:'translate('+(xScale(p,lon)-0.5)+' '+(p.y+PH+55)+') scale(1 1.07)'},g);
      
      
      t.textContent = lonTickLabels[i];
    });
  }
});

// ---- colorbar ----
const cb = document.getElementById('colorbar');
const cbX0 = 229, cbW = 604;
function cbScale(v){ return cbX0 + (v - colorLevels[0]) / (colorLevels[colorLevels.length-1] - colorLevels[0]) * cbW; }
for (let i = 0; i + 1 < colorLevels.length; i++){
  const a = colorLevels[i], b = colorLevels[i+1];
  const el = make('rect',{x:cbScale(a),y:970,width:cbScale(b)-cbScale(a),height:23,fill:levelColor((a+b)/2),stroke:'#111','stroke-width':1.2},cb);
  
  
}
colorbarLabels.forEach(function(v){
  const t = make('text',{x:cbScale(v)+0.5,y:1021,'font-size':29,'text-anchor':'middle'},cb);
  
  
  t.textContent = v;
});
</script>
</body>
</html>
